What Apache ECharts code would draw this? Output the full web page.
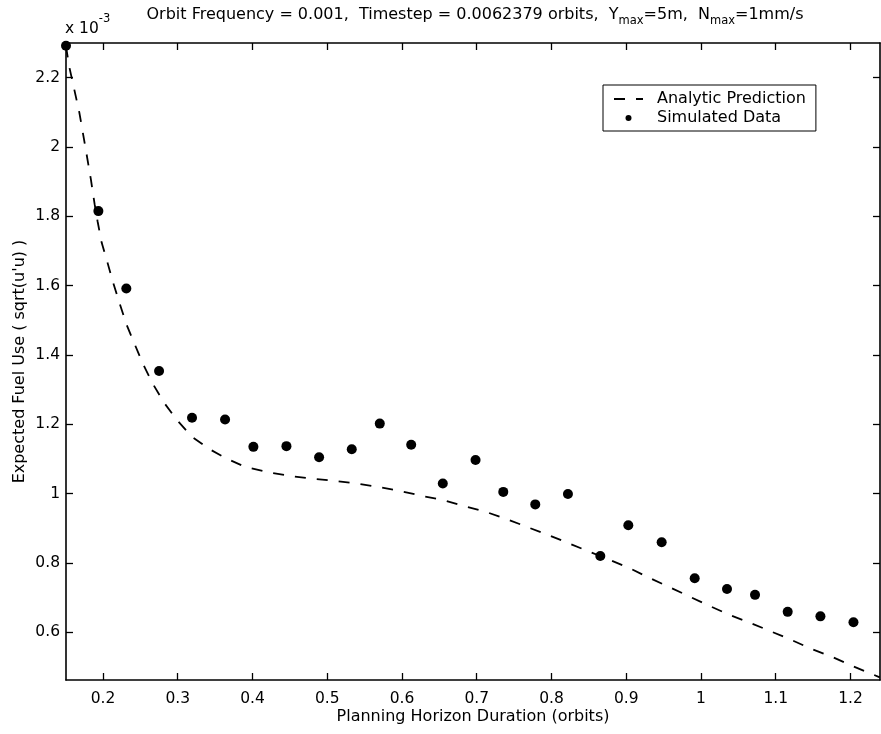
<!DOCTYPE html>
<html>
<head>
<meta charset="utf-8">
<script src="https://cdn.jsdelivr.net/npm/echarts@6/dist/echarts.min.js"></script>
<style>
html,body{margin:0;padding:0;background:#fff;}
#chart{width:881px;height:734px;}
</style>
</head>
<body>
<div id="chart"></div>
<script>
// Data (y values in units of 1e-3)
const simX = [0.1505, 0.1938, 0.2312, 0.2750, 0.3191, 0.3633, 0.4012, 0.4454, 0.4891, 0.5328, 0.5703, 0.6123, 0.6546, 0.6984, 0.7355, 0.7783, 0.8220, 0.8653, 0.9028, 0.9474, 0.9916, 1.0348, 1.0723, 1.1160, 1.1598, 1.2040];
const simY = [2.292, 1.815, 1.592, 1.354, 1.219, 1.214, 1.135, 1.137, 1.105, 1.128, 1.202, 1.141, 1.029, 1.097, 1.005, 0.969, 0.999, 0.820, 0.909, 0.860, 0.756, 0.725, 0.708, 0.659, 0.646, 0.629];

const anaX = [0.1505, 0.1550, 0.1683, 0.1776, 0.1839, 0.1888, 0.1928, 0.1981, 0.2062, 0.2138, 0.2222, 0.2316, 0.2428, 0.2535, 0.2664, 0.2811, 0.2991, 0.3191, 0.3419, 0.3647, 0.3892, 0.4249, 0.4538, 0.4851, 0.5141, 0.5431, 0.5722, 0.6011, 0.6278, 0.6546, 0.6837, 0.7127, 0.7408, 0.7684, 0.7952, 0.8219, 0.8487, 0.8755, 0.9045, 0.9290, 0.9580, 0.9848, 1.0116, 1.0384, 1.0651, 1.0942, 1.1210, 1.1478, 1.1746, 1.2013, 1.2281, 1.2392];
const anaY = [2.290, 2.230, 2.100, 1.985, 1.905, 1.835, 1.785, 1.725, 1.665, 1.607, 1.549, 1.487, 1.429, 1.374, 1.318, 1.264, 1.212, 1.164, 1.129, 1.102, 1.078, 1.060, 1.050, 1.042, 1.036, 1.028, 1.018, 1.006, 0.993, 0.982, 0.964, 0.947, 0.926, 0.903, 0.881, 0.858, 0.834, 0.811, 0.785, 0.759, 0.730, 0.703, 0.676, 0.650, 0.628, 0.602, 0.578, 0.552, 0.530, 0.504, 0.480, 0.470];

const xTicks = [0.2, 0.3, 0.4, 0.5, 0.6, 0.7, 0.8, 0.9, 1, 1.1, 1.2];
const yTicks = [0.6, 0.8, 1, 1.2, 1.4, 1.6, 1.8, 2, 2.2];

const seriesNames = ['Analytic Prediction', 'Simulated Data'];
const xName = 'Planning Horizon Duration (orbits)';
const yName = "Expected Fuel Use ( sqrt(u'u) )";
const titleText = 'Orbit Frequency = 0.001,  Timestep = 0.0062379 orbits,  Y{sub|max}=5m,  N{sub|max}=1mm/s';
const scaleText = 'x 10{sup|-3}';

const X_MIN = 0.1505, X_MAX = 1.2395, Y_MIN = 0.4624, Y_MAX = 2.300;

const FONT = '"DejaVu Sans", Verdana, sans-serif';
const chart = echarts.init(document.getElementById('chart'));

function xAxisCfg(pos, showLabels) {
  return {
    type: 'value', position: pos, min: X_MIN, max: X_MAX,
    axisLine: { show: true, onZero: false, lineStyle: { color: '#000', width: 1.6 } },
    axisTick: { show: true, inside: true, length: 7, customValues: xTicks, lineStyle: { color: '#000', width: 1.3 } },
    axisLabel: { show: showLabels, customValues: xTicks, color: '#000', fontSize: 15.5, fontFamily: FONT, margin: 11 },
    splitLine: { show: false },
    name: showLabels ? xName : '',
    nameLocation: 'middle', nameGap: 29, nameMoveOverlap: false,
    nameTextStyle: { color: '#000', fontSize: 16, fontFamily: FONT }
  };
}
function yAxisCfg(pos, showLabels) {
  return {
    type: 'value', position: pos, min: Y_MIN, max: Y_MAX,
    axisLine: { show: true, onZero: false, lineStyle: { color: '#000', width: 1.6 } },
    axisTick: { show: true, inside: true, length: 7, customValues: yTicks, lineStyle: { color: '#000', width: 1.3 } },
    axisLabel: { show: showLabels, customValues: yTicks, color: '#000', fontSize: 15.5, fontFamily: FONT, margin: 6 },
    splitLine: { show: false },
    name: showLabels ? yName : '',
    nameLocation: 'middle', nameGap: 38, nameMoveOverlap: false,
    nameTextStyle: { color: '#000', fontSize: 16, fontFamily: FONT }
  };
}

const option = {
  backgroundColor: '#fff',
  animation: false,
  grid: { left: 66, right: 1, top: 43, bottom: 54, containLabel: false },
  xAxis: [xAxisCfg('bottom', true), xAxisCfg('top', false)],
  yAxis: [yAxisCfg('left', true), yAxisCfg('right', false)],
  legend: {
    orient: 'vertical', left: 603, top: 85,
    backgroundColor: '#fff', borderColor: '#000', borderWidth: 1,
    padding: [6, 10, 5, 10], itemGap: 3,
    itemWidth: 29, itemHeight: 6,
    textStyle: { color: '#000', fontSize: 16, fontFamily: FONT, padding: [0, 0, 0, 9] },
    data: [
      { name: seriesNames[0], itemStyle: { color: 'transparent', borderColor: 'transparent', borderWidth: 0 } },
      { name: seriesNames[1], icon: 'circle' }
    ]
  },
  graphic: [
    {
      type: 'text', x: 475, y: 15,
      style: {
        text: titleText, align: 'center', verticalAlign: 'middle',
        fill: '#000', fontSize: 16, fontFamily: FONT,
        rich: { sub: { fontSize: 11.5, fontFamily: FONT, fill: '#000', padding: [12, 0, 0, 0] } }
      }
    },
    {
      type: 'text', x: 65, y: 29,
      style: {
        text: scaleText, align: 'left', verticalAlign: 'middle',
        fill: '#000', fontSize: 15.5, fontFamily: FONT,
        rich: { sup: { fontSize: 11.5, fontFamily: FONT, fill: '#000', padding: [0, 0, 20, 0] } }
      }
    }
  ],
  series: [
    {
      name: seriesNames[0], type: 'line', xAxisIndex: 0, yAxisIndex: 0,
      data: anaX.map((x, i) => [x, anaY[i]]),
      showSymbol: false, symbol: 'none', smooth: false,
      lineStyle: { color: '#000', width: 1.8, type: [11, 11] },
      itemStyle: { color: '#000' },
      z: 2
    },
    {
      name: seriesNames[1], type: 'scatter', xAxisIndex: 0, yAxisIndex: 0,
      data: simX.map((x, i) => [x, simY[i]]),
      symbol: 'circle', symbolSize: 10, clip: false,
      itemStyle: { color: '#000', opacity: 1 },
      z: 3
    }
  ]
};
chart.setOption(option);
</script>
</body>
</html>
